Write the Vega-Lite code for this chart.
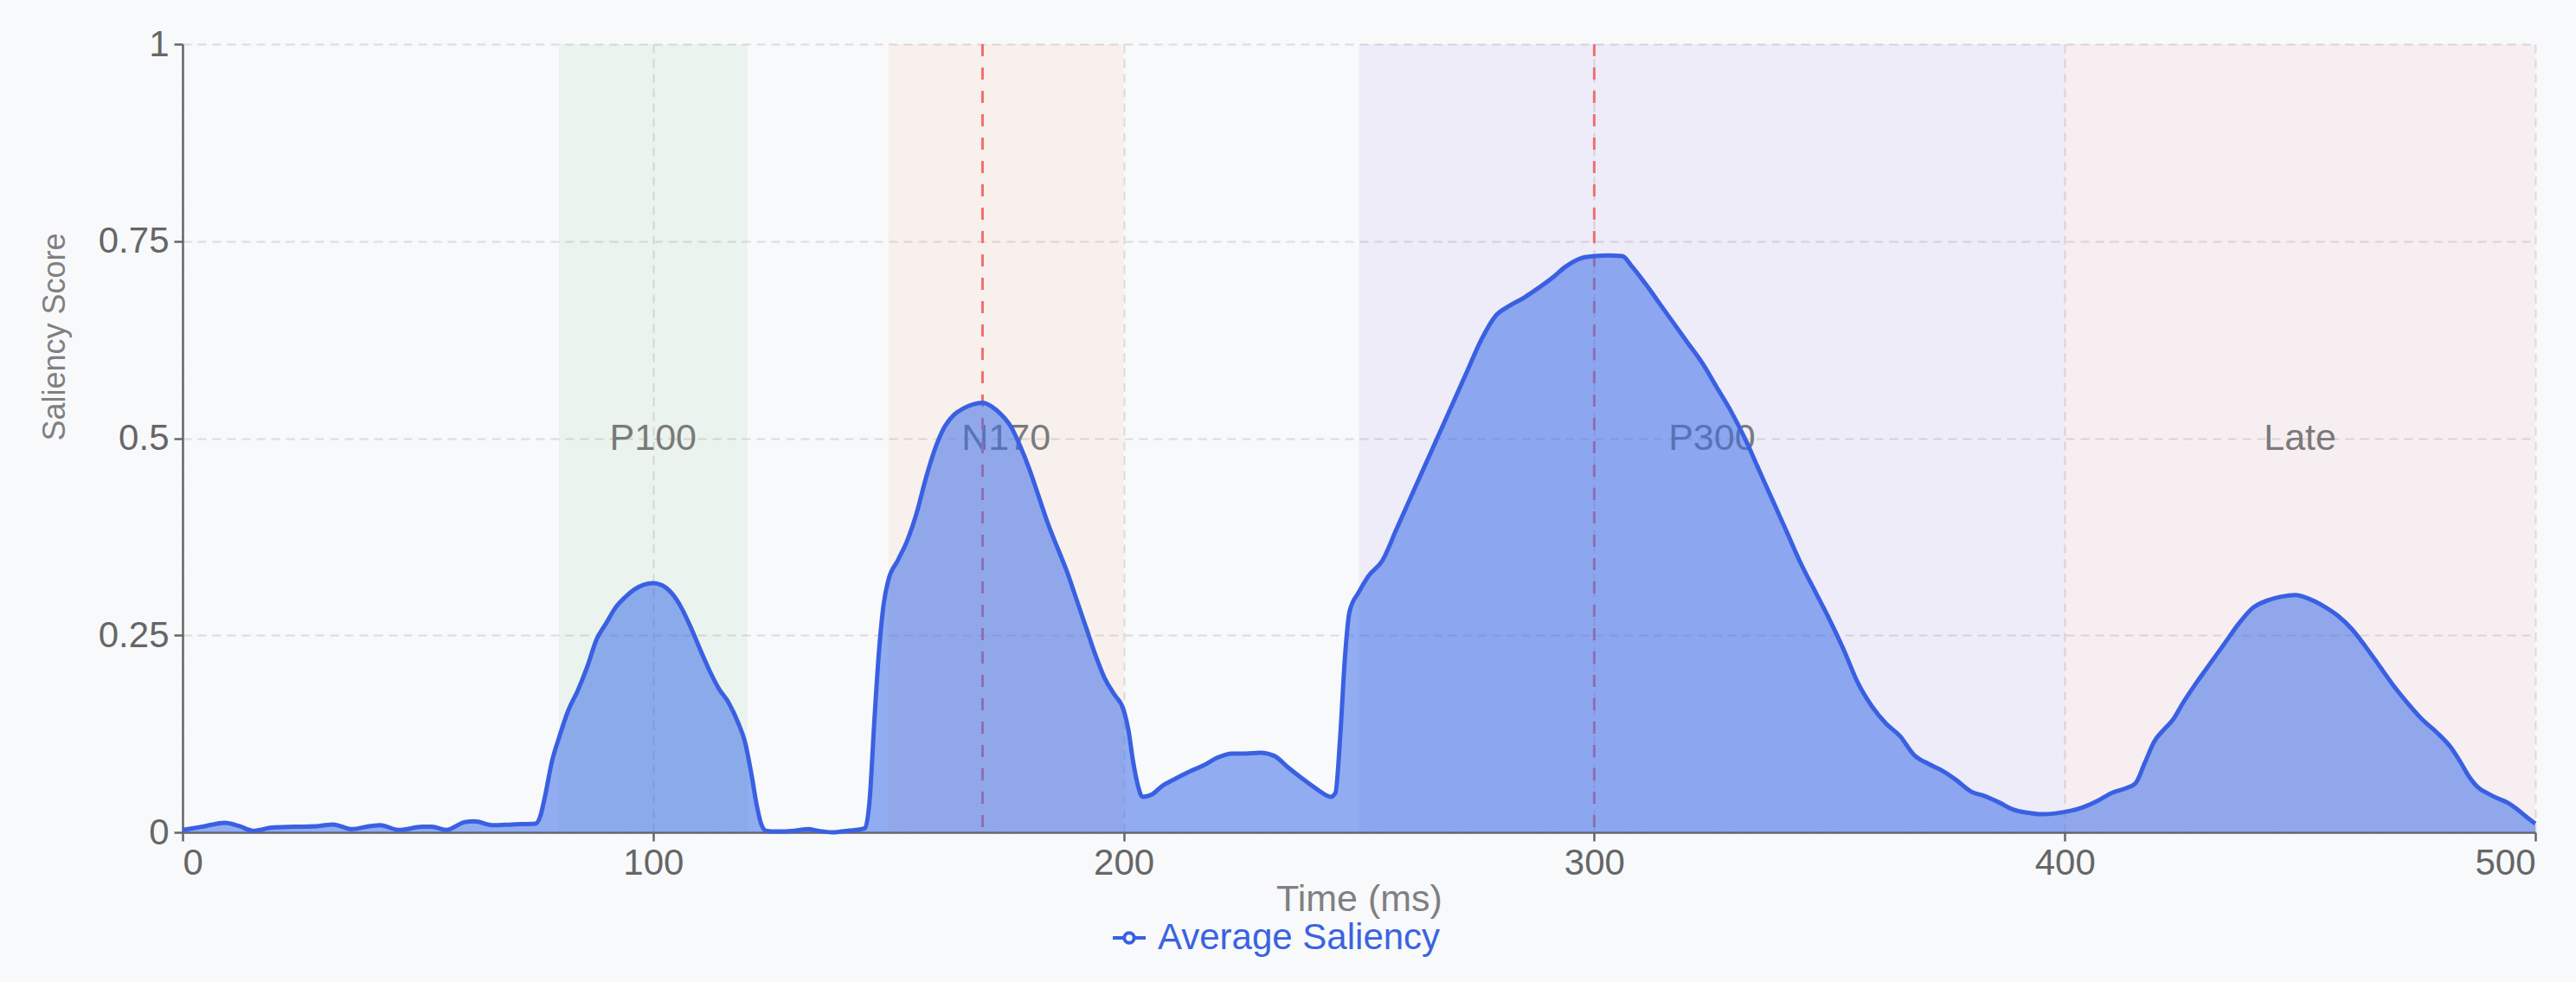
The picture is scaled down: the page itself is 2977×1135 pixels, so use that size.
{
  "$schema": "https://vega.github.io/schema/vega-lite/v6.json",
  "width": 2719,
  "height": 911,
  "autosize": {"type": "none"},
  "padding": {"left": 211, "top": 51, "right": 47, "bottom": 173},
  "background": "#f8f9fb",
  "config": {
    "font": "Liberation Sans",
    "view": {"stroke": null},
    "axis": {
      "domainColor": "#666666",
      "domainWidth": 2.5,
      "tickColor": "#666666",
      "tickWidth": 2.5,
      "tickSize": 10,
      "labelColor": "#666666",
      "labelFontSize": 42,
      "labelFont": "Liberation Sans",
      "titleFont": "Liberation Sans",
      "titleFontWeight": "normal",
      "titleColor": "#808080",
      "gridColor": "#dcdcdc",
      "gridDash": [10, 7],
      "gridWidth": 2
    }
  },
  "datasets": {
    "bands": [
      {"name": "P100", "start": 80, "end": 120},
      {"name": "N170", "start": 150, "end": 200},
      {"name": "P300", "start": 250, "end": 400},
      {"name": "Late", "start": 400, "end": 500}
    ],
    "peaks": [{"t": 170}, {"t": 300}],
    "saliency": [
      {"t": 0, "v": 0.003}, {"t": 4, "v": 0.007}, {"t": 9, "v": 0.012}, {"t": 12, "v": 0.008},
      {"t": 15, "v": 0.002}, {"t": 19, "v": 0.006}, {"t": 24, "v": 0.007}, {"t": 29, "v": 0.008},
      {"t": 32, "v": 0.010}, {"t": 36, "v": 0.004}, {"t": 40, "v": 0.008}, {"t": 42, "v": 0.009},
      {"t": 46, "v": 0.003}, {"t": 51, "v": 0.007}, {"t": 53, "v": 0.007}, {"t": 56, "v": 0.003},
      {"t": 60, "v": 0.013}, {"t": 62, "v": 0.014}, {"t": 66, "v": 0.009}, {"t": 70, "v": 0.010},
      {"t": 75, "v": 0.011}, {"t": 76, "v": 0.02}, {"t": 77, "v": 0.045}, {"t": 78.5, "v": 0.09},
      {"t": 80, "v": 0.12}, {"t": 82, "v": 0.155}, {"t": 84, "v": 0.18}, {"t": 86, "v": 0.21},
      {"t": 88, "v": 0.245}, {"t": 90, "v": 0.265}, {"t": 92, "v": 0.285}, {"t": 94, "v": 0.298},
      {"t": 96, "v": 0.308}, {"t": 98, "v": 0.314}, {"t": 100, "v": 0.316}, {"t": 102, "v": 0.313},
      {"t": 104, "v": 0.303}, {"t": 106, "v": 0.285}, {"t": 108, "v": 0.26}, {"t": 110, "v": 0.232},
      {"t": 112, "v": 0.205}, {"t": 114, "v": 0.182}, {"t": 116, "v": 0.165}, {"t": 118, "v": 0.14},
      {"t": 119.5, "v": 0.115}, {"t": 121, "v": 0.07}, {"t": 122, "v": 0.035}, {"t": 123, "v": 0.01},
      {"t": 124, "v": 0.002}, {"t": 126, "v": 0.001}, {"t": 130, "v": 0.002}, {"t": 133, "v": 0.004},
      {"t": 135, "v": 0.002}, {"t": 138, "v": 0.0}, {"t": 140, "v": 0.001}, {"t": 143, "v": 0.003},
      {"t": 145, "v": 0.005}, {"t": 146, "v": 0.04}, {"t": 147, "v": 0.14}, {"t": 148, "v": 0.23},
      {"t": 149, "v": 0.29}, {"t": 150, "v": 0.32}, {"t": 152, "v": 0.345}, {"t": 154, "v": 0.37},
      {"t": 156, "v": 0.405}, {"t": 158, "v": 0.45}, {"t": 160, "v": 0.488}, {"t": 162, "v": 0.515},
      {"t": 164, "v": 0.53}, {"t": 166, "v": 0.538}, {"t": 168, "v": 0.543}, {"t": 170, "v": 0.545},
      {"t": 172, "v": 0.54}, {"t": 174, "v": 0.53}, {"t": 176, "v": 0.515}, {"t": 178, "v": 0.49},
      {"t": 180, "v": 0.46}, {"t": 182, "v": 0.425}, {"t": 184, "v": 0.39}, {"t": 186, "v": 0.36},
      {"t": 188, "v": 0.33}, {"t": 190, "v": 0.295}, {"t": 192, "v": 0.26}, {"t": 194, "v": 0.225},
      {"t": 196, "v": 0.195}, {"t": 198, "v": 0.175}, {"t": 200, "v": 0.155}, {"t": 201, "v": 0.13},
      {"t": 202, "v": 0.09}, {"t": 203, "v": 0.06}, {"t": 204, "v": 0.045}, {"t": 206, "v": 0.048},
      {"t": 208, "v": 0.058}, {"t": 211, "v": 0.068}, {"t": 214, "v": 0.077}, {"t": 217, "v": 0.085},
      {"t": 220, "v": 0.095}, {"t": 223, "v": 0.1}, {"t": 226, "v": 0.1}, {"t": 229, "v": 0.101},
      {"t": 232, "v": 0.097}, {"t": 235, "v": 0.082}, {"t": 238, "v": 0.068}, {"t": 241, "v": 0.055},
      {"t": 244, "v": 0.045}, {"t": 245, "v": 0.05}, {"t": 246, "v": 0.12}, {"t": 247, "v": 0.22},
      {"t": 248, "v": 0.28}, {"t": 250, "v": 0.305}, {"t": 252, "v": 0.325}, {"t": 255, "v": 0.345},
      {"t": 258, "v": 0.385}, {"t": 261, "v": 0.425}, {"t": 264, "v": 0.465}, {"t": 267, "v": 0.505},
      {"t": 270, "v": 0.545}, {"t": 273, "v": 0.585}, {"t": 276, "v": 0.625}, {"t": 279, "v": 0.655},
      {"t": 282, "v": 0.668}, {"t": 285, "v": 0.678}, {"t": 288, "v": 0.69}, {"t": 291, "v": 0.703},
      {"t": 294, "v": 0.718}, {"t": 297, "v": 0.728}, {"t": 300, "v": 0.731}, {"t": 303, "v": 0.732},
      {"t": 306, "v": 0.731}, {"t": 308, "v": 0.718}, {"t": 311, "v": 0.695}, {"t": 314, "v": 0.67},
      {"t": 317, "v": 0.645}, {"t": 320, "v": 0.62}, {"t": 323, "v": 0.595}, {"t": 326, "v": 0.565},
      {"t": 329, "v": 0.535}, {"t": 332, "v": 0.5}, {"t": 335, "v": 0.46}, {"t": 338, "v": 0.42},
      {"t": 341, "v": 0.38}, {"t": 344, "v": 0.34}, {"t": 347, "v": 0.305}, {"t": 350, "v": 0.27},
      {"t": 353, "v": 0.232}, {"t": 356, "v": 0.19}, {"t": 359, "v": 0.16}, {"t": 362, "v": 0.138},
      {"t": 365, "v": 0.122}, {"t": 368, "v": 0.098}, {"t": 371, "v": 0.087}, {"t": 374, "v": 0.078},
      {"t": 377, "v": 0.066}, {"t": 380, "v": 0.052}, {"t": 383, "v": 0.046}, {"t": 386, "v": 0.038},
      {"t": 389, "v": 0.029}, {"t": 392, "v": 0.025}, {"t": 395, "v": 0.023}, {"t": 398, "v": 0.024},
      {"t": 401, "v": 0.027}, {"t": 404, "v": 0.032}, {"t": 407, "v": 0.04}, {"t": 410, "v": 0.05},
      {"t": 413, "v": 0.056}, {"t": 415, "v": 0.062}, {"t": 417, "v": 0.088}, {"t": 419, "v": 0.115},
      {"t": 421, "v": 0.13}, {"t": 423, "v": 0.143}, {"t": 425, "v": 0.163}, {"t": 428, "v": 0.19},
      {"t": 431, "v": 0.215}, {"t": 434, "v": 0.24}, {"t": 437, "v": 0.265}, {"t": 440, "v": 0.285},
      {"t": 443, "v": 0.294}, {"t": 446, "v": 0.299}, {"t": 449, "v": 0.301}, {"t": 452, "v": 0.296},
      {"t": 455, "v": 0.287}, {"t": 458, "v": 0.275}, {"t": 461, "v": 0.258}, {"t": 464, "v": 0.235},
      {"t": 467, "v": 0.21}, {"t": 470, "v": 0.185}, {"t": 473, "v": 0.163}, {"t": 476, "v": 0.143},
      {"t": 479, "v": 0.127}, {"t": 482, "v": 0.108}, {"t": 484, "v": 0.09}, {"t": 486, "v": 0.07},
      {"t": 488, "v": 0.056}, {"t": 490, "v": 0.049}, {"t": 492, "v": 0.043}, {"t": 494, "v": 0.038},
      {"t": 496, "v": 0.03}, {"t": 498, "v": 0.02}, {"t": 500, "v": 0.011}
    ]
  },
  "layer": [
    {
      "data": {"name": "bands"},
      "mark": {"type": "rect", "opacity": 0.08},
      "encoding": {
        "x": {"field": "start", "type": "quantitative", "scale": {"domain": [0, 500], "nice": false, "zero": false},
          "axis": {"values": [0, 100, 200, 300, 400, 500], "grid": true, "title": "Time (ms)", "titleFontSize": 43, "labelPadding": 5, "titlePadding": 0, "format": "d"}},
        "x2": {"field": "end"},
        "color": {"field": "name", "type": "nominal", "legend": null,
          "scale": {"domain": ["P100", "N170", "P300", "Late"], "range": ["#4caf50", "#f08c4a", "#7b5cd6", "#e57373"]}}
      }
    },
    {
      "data": {"name": "bands"},
      "transform": [{"calculate": "(datum.start + datum.end) / 2", "as": "center"}],
      "mark": {"type": "text", "fontSize": 43, "color": "#7a7a7a", "baseline": "middle", "align": "center", "font": "Liberation Sans"},
      "encoding": {
        "x": {"field": "center", "type": "quantitative"},
        "y": {"datum": 0.5, "type": "quantitative"},
        "text": {"field": "name"}
      }
    },
    {
      "data": {"name": "peaks"},
      "mark": {"type": "rule", "color": "#f07070", "strokeWidth": 3, "strokeDash": [14, 13]},
      "encoding": {
        "x": {"field": "t", "type": "quantitative"}
      }
    },
    {
      "data": {"name": "saliency"},
      "mark": {"type": "area", "interpolate": "monotone", "color": "#3d6ee8", "opacity": 0.55},
      "encoding": {
        "x": {"field": "t", "type": "quantitative"},
        "y": {"field": "v", "type": "quantitative",
          "scale": {"domain": [0, 1], "nice": false},
          "axis": {"values": [0, 0.25, 0.5, 0.75, 1], "format": "~g", "grid": true, "title": "Saliency Score",
            "titleFontSize": 36, "titleAngle": 270, "titleAlign": "left", "titleBaseline": "middle",
            "titleX": -148, "titleY": 458, "labelPadding": 6}}
      }
    },
    {
      "data": {"name": "saliency"},
      "mark": {"type": "line", "interpolate": "monotone", "strokeWidth": 5},
      "encoding": {
        "x": {"field": "t", "type": "quantitative"},
        "y": {"field": "v", "type": "quantitative"},
        "stroke": {"datum": "Average Saliency", "type": "nominal",
          "scale": {"range": ["#3a60e2"]},
          "legend": {"title": null, "orient": "none", "legendX": 1073, "legendY": 1012,
            "labelFontSize": 42, "labelColor": "#3b63e0", "labelFont": "Liberation Sans", "labelLimit": 0,
            "symbolType": "M-1,0H-0.3M0.3,0H1M0.3,0A0.3,0.3 0 1,1 -0.3,0A0.3,0.3 0 1,1 0.3,0",
            "symbolSize": 1444, "symbolStrokeColor": "#3a60e2", "symbolFillColor": "#f8f9fb",
            "symbolStrokeWidth": 4, "symbolOpacity": 1, "labelOffset": 12}}
      }
    }
  ]
}
